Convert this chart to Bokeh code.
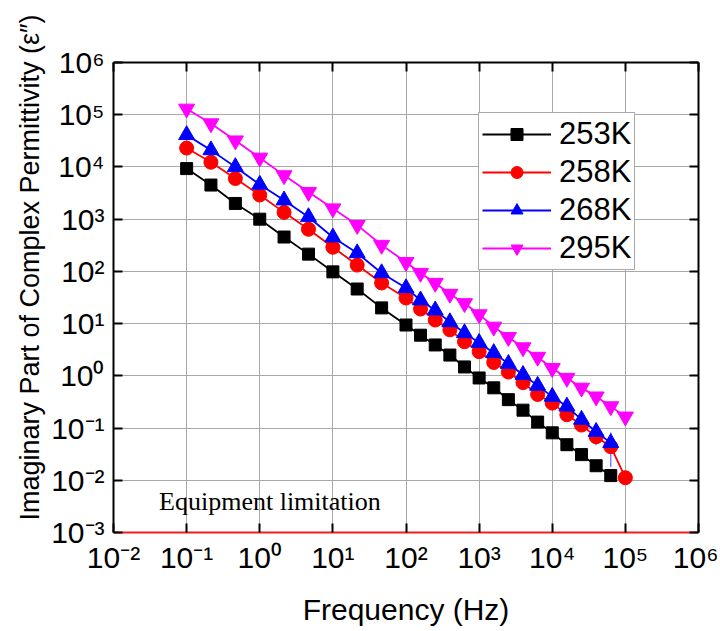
from bokeh.plotting import figure
from bokeh.models import (FixedTicker, LogAxis, Legend, LegendItem, Label,
                          ColumnDataSource, Range1d)
from bokeh.embed import file_html
from bokeh.resources import INLINE

# ---------------- data ----------------
freq = [0.1, 0.215, 0.464, 1.0, 2.15, 4.64, 10.0, 21.5, 46.4, 100.0,
        158.0, 251.0, 398.0, 631.0, 1000.0, 1585.0, 2512.0, 3981.0, 6310.0,
        10000.0, 15849.0, 25119.0, 39811.0, 63096.0, 100000.0]

eps_253 = [9.3e3, 4.5e3, 2.0e3, 1.0e3, 455, 214, 98, 46, 20, 9.4,
           6.0, 3.9, 2.5, 1.48, 0.91, 0.59, 0.35, 0.22, 0.13,
           0.081, 0.048, 0.031, 0.019, 0.0123]
eps_258 = [2.3e4, 1.23e4, 6.0e3, 2.9e3, 1.35e3, 640, 290, 132, 60, 31,
           19, 11.7, 7.6, 4.5, 2.9, 1.8, 1.18, 0.74, 0.44,
           0.30, 0.18, 0.114, 0.068, 0.044, 0.0112]
eps_268 = [4.1e4, 2.1e4, 1.0e4, 4.6e3, 2.3e3, 1.1e3, 450, 224, 93, 48,
           28, 18, 10.7, 6.6, 4.3, 2.75, 1.7, 1.05, 0.65,
           0.40, 0.26, 0.145, 0.085, 0.052]
eps_295 = [1.3e5, 6.8e4, 3.2e4, 1.5e4, 6.9e3, 3.3e3, 1.6e3, 770, 320, 150,
           93, 60, 37, 24.5, 15, 8.7, 5.5, 3.5, 2.3,
           1.4, 0.91, 0.59, 0.40, 0.26, 0.165]

err_268_freq = [39811.0, 63096.0]
err_268_low = [0.047, 0.018]
err_268_high = [0.12, 0.082]

labels = ["253K", "258K", "268K", "295K"]
x_exps = [-2, -1, 0, 1, 2, 3, 4, 5, 6]
y_exps = [-3, -2, -1, 0, 1, 2, 3, 4, 5, 6]
x_title = "Frequency (Hz)"
y_title = "Imaginary Part of Complex Permittivity (ε″)"
note_text = "Equipment limitation"
note_x, note_y = 0.042, 0.0039

# ---------------- figure ----------------
FONT = "Liberation Sans"
p = figure(width=718, height=628, x_axis_type="log", y_axis_type="log",
           x_range=Range1d(1e-2, 1e6), y_range=Range1d(1e-3, 1e6),
           output_backend="svg", toolbar_location=None,
           min_border_left=113, min_border_right=20,
           min_border_top=62, min_border_bottom=95)
p.outline_line_color = None
p.background_fill_color = "white"
p.border_fill_color = "white"

sup = str.maketrans("-0123456789", "⁻⁰¹²³⁴⁵⁶⁷⁸⁹")
xticks = [10.0 ** e for e in x_exps]
yticks = [10.0 ** e for e in y_exps]
xlab = {10.0 ** e: "10" + str(e).translate(sup) for e in x_exps}
ylab = {10.0 ** e: "10" + str(e).translate(sup) for e in y_exps}

def style_axis(ax, ticks, labs, color="black"):
    ax.ticker = FixedTicker(ticks=ticks)
    ax.major_label_overrides = labs
    ax.minor_tick_line_color = None
    ax.major_tick_in = 9
    ax.major_tick_out = 0
    ax.major_tick_line_width = 2
    ax.major_tick_line_color = "black"
    ax.axis_line_width = 2
    ax.axis_line_color = color
    ax.major_label_text_font = FONT
    ax.major_label_text_font_size = "30px"
    ax.major_label_text_color = "black"
    ax.axis_label_text_font = FONT
    ax.axis_label_text_font_size = "30px"
    ax.axis_label_text_font_style = "normal"
    ax.axis_label_text_color = "black"

style_axis(p.xaxis[0], xticks, xlab, color="#ee1c24")
style_axis(p.yaxis[0], yticks, ylab)
p.xaxis.axis_label = x_title
p.xaxis.major_label_standoff = 8
p.xaxis.axis_label_standoff = 16
p.yaxis.major_label_standoff = 9
# leading no-break spaces shift the centred title upwards, as in the original
p.yaxis.axis_label = "\u00a0" * 8 + y_title
p.yaxis.axis_label_text_font_size = "27px"
p.yaxis.axis_label_standoff = 3

top = LogAxis()
right = LogAxis()
for ax, t in ((top, xticks), (right, yticks)):
    style_axis(ax, t, {v: "" for v in t})
    ax.major_label_text_font_size = "1px"
    ax.major_label_standoff = 0
p.add_layout(top, "above")
p.add_layout(right, "right")

p.xgrid.ticker = FixedTicker(ticks=xticks)
p.ygrid.ticker = FixedTicker(ticks=yticks)
for g in (p.xgrid[0], p.ygrid[0]):
    g.grid_line_color = "#a8a8a8"
    g.grid_line_width = 1

# error bars (268K)
src_err = ColumnDataSource(dict(x=err_268_freq, lo=err_268_low, hi=err_268_high))
p.segment(x0="x", y0="lo", x1="x", y1="hi", source=src_err,
          line_color="#8080ff", line_width=1.5)

series = [
    (eps_253, "black", "square", 12),
    (eps_258, "red", "circle", 14),
    (eps_268, "blue", "triangle", 16),
    (eps_295, "magenta", "inverted_triangle", 16),
]
items = []
for (vals, col, mk, sz), lab in zip(series, labels):
    xs = freq[:len(vals)]
    l = p.line(xs, vals, line_color=col, line_width=1.8)
    s = p.scatter(xs, vals, marker=mk, size=sz, fill_color=col, line_color=col)
    items.append(LegendItem(label=lab, renderers=[l, s]))

legend = Legend(items=items, location=(365, 262),
                label_text_font=FONT, label_text_font_size="31px",
                label_text_color="black",
                glyph_width=69, glyph_height=30, label_height=30,
                label_standoff=8, spacing=2, padding=3, margin=0,
                border_line_color="#555555", border_line_width=1,
                background_fill_color="white", background_fill_alpha=1.0)
p.add_layout(legend, "center")

p.add_layout(Label(x=note_x, y=note_y, text=note_text,
                   text_font="Liberation Serif", text_font_size="26px",
                   text_baseline="middle", text_align="left",
                   text_color="black"))

open("out.html", "w").write(file_html(p, INLINE))
